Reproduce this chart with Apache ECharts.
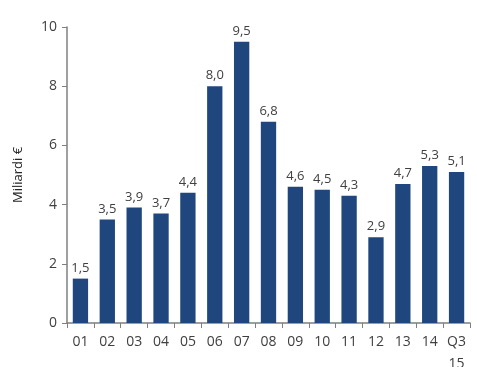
<!DOCTYPE html>
<html><head><meta charset="utf-8">
<script src="https://cdn.jsdelivr.net/npm/echarts@6/dist/echarts.min.js"></script>
<style>html,body{margin:0;padding:0;background:#fff}#c{width:477px;height:367px}</style>
</head><body><div id="c"></div>
<script>
const categories = ['01','02','03','04','05','06','07','08','09','10','11','12','13','14','Q3\n15'];
const values = [1.5,3.5,3.9,3.7,4.4,8.0,9.5,6.8,4.6,4.5,4.3,2.9,4.7,5.3,5.1];
const yTicks = [0,2,4,6,8,10];
const chart = echarts.init(document.getElementById('c'), null, {renderer:'canvas'});
chart.setOption({
  animation:false,
  grid:{left:67,right:7,top:27,bottom:44,outerBoundsMode:'none',containLabel:false},
  xAxis:{type:'category',data:categories,boundaryGap:true,
    axisLine:{lineStyle:{color:'#7f7f7f',width:1.5}},
    axisTick:{show:true,alignWithLabel:false,length:5,lineStyle:{color:'#7f7f7f'}},
    axisLabel:{color:'#404040',fontSize:14,fontFamily:'Open Sans',margin:8,lineHeight:22,interval:0}},
  yAxis:{type:'value',min:0,max:10,interval:2,
    name:'Miliardi €',nameLocation:'middle',nameGap:42,nameRotate:90,
    nameTextStyle:{color:'#262626',fontSize:13,fontFamily:'Open Sans'},
    axisLine:{show:true,lineStyle:{color:'#7f7f7f',width:1.5}},
    axisTick:{show:true,length:5,lineStyle:{color:'#7f7f7f'}},
    splitLine:{show:false},
    axisLabel:{color:'#404040',fontSize:14,fontFamily:'Open Sans',margin:10,
      formatter:v=>yTicks.includes(v)?String(v):''}},
  series:[{type:'bar',data:values,barWidth:'57%',
    itemStyle:{color:'#1f477e'},
    label:{show:true,position:'top',distance:4,color:'#404040',fontSize:13,fontFamily:'Open Sans',
      formatter:p=>p.value.toFixed(1).replace('.',',')}}]
});
</script></body></html>
